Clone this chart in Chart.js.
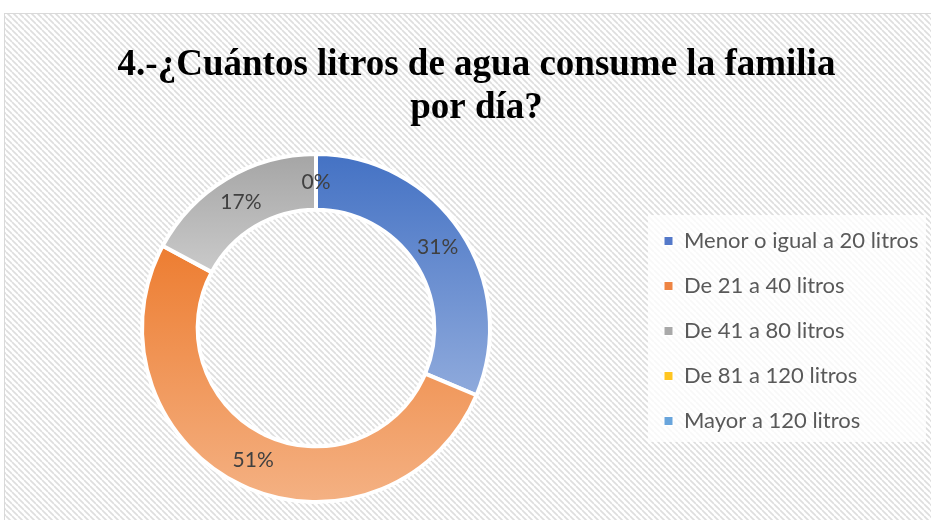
<!DOCTYPE html>
<html>
<head>
<meta charset="utf-8">
<script src="https://cdn.jsdelivr.net/npm/chart.js@4.4.1/dist/chart.umd.min.js"></script>
<style>
    html, body { margin: 0; padding: 0; background: #fff; }
    canvas { display: block; }
</style>
</head>
<body>
<canvas id="grafico_litros" width="931" height="520"></canvas>
<script>
const categorias = ['Menor o igual a 20 litros', 'De 21 a 40 litros', 'De 41 a 80 litros', 'De 81 a 120 litros', 'Mayor a 120 litros'];
const porcentajes = [31, 51, 17, 0, 0];
const titulo = ['4.-¿Cuántos litros de agua consume la familia', 'por día?'];

const colores_oscuros = ['#4472C4', '#ED7D31', '#A5A5A5', '#FFC000', '#5B9BD5'];
const colores_claros = ['#8FAADC', '#F4B183', '#CACACA', '#FFD966', '#9DC3E6'];
const colores_leyenda = ['#5479C9', '#EE8443', '#A9A9A9', '#FFC520', '#69A5DC'];

const CORTE = 0.68;

// degradado vertical por porción, como en Excel
function degradado(context) {
    const i = context.dataIndex;
    const chart = context.chart;
    const area = chart.chartArea;
    if (!area) return colores_oscuros[i];
    const datos = context.dataset.data;
    const total = datos.reduce((s, v) => s + v, 0);
    const previo = datos.slice(0, i).reduce((s, v) => s + v, 0);
    const ini = -Math.PI / 2 + 2 * Math.PI * previo / total;
    const fin = ini + 2 * Math.PI * datos[i] / total;
    const cy = (area.top + area.bottom) / 2;
    const rExt = Math.min(area.width, area.height) / 2 - 2;
    const rInt = rExt * CORTE;
    let yMin = Infinity, yMax = -Infinity;
    for (let k = 0; k <= 90; k++) {
        const ang = ini + (fin - ini) * k / 90;
        for (const r of [rInt, rExt]) {
            const y = cy + r * Math.sin(ang);
            yMin = Math.min(yMin, y);
            yMax = Math.max(yMax, y);
        }
    }
    if (yMax - yMin < 1) return colores_oscuros[i];
    const g = chart.ctx.createLinearGradient(0, yMin, 0, yMax);
    g.addColorStop(0, colores_oscuros[i]);
    g.addColorStop(1, colores_claros[i]);
    return g;
}

const fondo = {
    id: 'fondo',
    beforeDraw(chart) {
        const ctx = chart.ctx;
        ctx.save();
        ctx.fillStyle = '#fff';
        ctx.fillRect(0, 0, chart.width, chart.height);
        const tile = document.createElement('canvas');
        tile.width = 6;
        tile.height = 6;
        const t = tile.getContext('2d');
        t.strokeStyle = '#dedede';
        t.lineWidth = 1.7;
        for (const k of [-6, 0, 6]) {
            t.beginPath();
            t.moveTo(k, 0);
            t.lineTo(k + 6, 6);
            t.stroke();
        }
        ctx.fillStyle = ctx.createPattern(tile, 'repeat');
        ctx.fillRect(4.5, 13.5, chart.width, chart.height);
        ctx.strokeStyle = '#d9d9d9';
        ctx.lineWidth = 1;
        ctx.strokeRect(4.5, 13.5, chart.width, chart.height);
        // caja blanca de la leyenda
        const lg = chart.legend;
        ctx.fillStyle = 'rgba(255,255,255,0.78)';
        ctx.fillRect(lg.left + 7, lg.top + 8, 278, 227);
        ctx.restore();
    }
};

// ubica el área del anillo y la leyenda donde están en la imagen
const ubicar = {
    id: 'ubicar',
    afterLayout(chart) {
        chart.chartArea = {left: 140, top: 152, right: 492, bottom: 504, width: 352, height: 352};
        const lg = chart.legend;
        const w = lg.width;
        lg.left = 641;
        lg.right = lg.left + w;
        lg.top = 207;
        lg.bottom = 520;
        lg.height = lg.bottom - lg.top;
    }
};

const etiquetas = {
    id: 'etiquetas',
    afterDatasetsDraw(chart) {
        const ctx = chart.ctx;
        const meta = chart.getDatasetMeta(0);
        const datos = chart.data.datasets[0].data;
        const vistos = [];
        ctx.save();
        ctx.font = '21px Lato';
        ctx.fillStyle = '#404040';
        ctx.textAlign = 'center';
        ctx.textBaseline = 'middle';
        meta.data.forEach((arco, i) => {
            const p = arco.getProps(['x', 'y', 'startAngle', 'endAngle', 'innerRadius', 'outerRadius']);
            const ang = (p.startAngle + p.endAngle) / 2;
            const r = (p.innerRadius + p.outerRadius) / 2;
            const px = p.x + r * Math.cos(ang);
            const py = p.y + r * Math.sin(ang);
            if (vistos.some(v => Math.abs(v[0] - px) < 1 && Math.abs(v[1] - py) < 1)) return;
            vistos.push([px, py]);
            ctx.fillText(datos[i] + '%', px, py);
        });
        ctx.restore();
    }
};

const generar_base = Chart.overrides.doughnut.plugins.legend.labels.generateLabels;

const grafico_litros = new Chart(document.getElementById('grafico_litros'), {
    type: 'doughnut',
    data: {
        labels: categorias,
        datasets: [
            {
                data: porcentajes,
                backgroundColor: degradado,
                borderColor: '#ffffff',
                borderWidth: 4,
            }
        ]
    },
    options: {
        responsive: false,
        animation: false,
        cutout: (CORTE * 100) + '%',
        layout: {
            padding: {left: 22, right: 0, top: 0, bottom: 0}
        },
        plugins: {
            title: {
                display: true,
                text: titulo,
                color: '#000000',
                font: {family: 'Liberation Serif', weight: 'bold', size: 37, lineHeight: 1.16},
                padding: {top: 44, bottom: 0}
            },
            legend: {
                position: 'right',
                align: 'start',
                labels: {
                    boxWidth: 9,
                    boxHeight: 9,
                    padding: 23,
                    color: '#595959',
                    font: {family: 'Lato', size: 22},
                    generateLabels: (chart) => {
                        const items = generar_base(chart);
                        items.forEach((it, i) => {
                            it.fillStyle = colores_leyenda[i];
                            it.strokeStyle = '#ffffff';
                            it.lineWidth = 1;
                        });
                        return items;
                    }
                }
            },
            tooltip: {enabled: false}
        }
    },
    plugins: [fondo, ubicar, etiquetas]
});
</script>
</body>
</html>
